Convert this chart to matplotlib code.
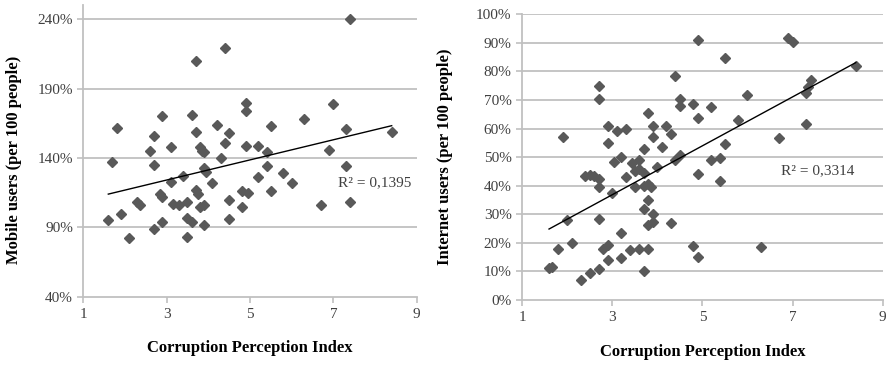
import numpy as np
import matplotlib
matplotlib.use("Agg")
from matplotlib import pyplot as plt

# left chart: corruption index vs mobile users
cpi_mobile = [7.4, 4.4, 3.7, 4.9, 4.9, 7.0, 3.6, 2.9, 6.3, 4.2, 5.5, 1.8, 7.3, 3.7,
              4.5, 8.4, 2.7, 4.4, 4.9, 5.2, 3.1, 3.8, 3.85, 3.9, 6.9, 2.6, 5.4, 4.3,
              1.7, 2.7, 5.4, 7.3, 3.9, 3.95, 5.8, 3.4, 5.2, 3.1, 4.1, 6.0, 3.7, 3.75,
              5.5, 4.8, 4.95, 2.85, 2.9, 4.5, 2.3, 2.35, 3.15, 3.3, 3.5, 3.8, 3.9, 4.8,
              7.4, 6.7, 1.6, 1.9, 2.1, 2.7, 2.9, 3.5, 3.6, 3.5, 3.9, 4.5]
mobile = [240, 219, 210, 180, 174, 179, 171, 170, 168, 164, 163, 162, 161, 159,
          158, 159, 156, 151, 149, 149, 148, 148, 145, 144, 146, 145, 144, 140,
          137, 135, 134, 134, 133, 130, 129, 127, 126, 123, 122, 122, 117, 114,
          116, 116, 115, 114, 112, 110, 108, 106, 107, 106, 108, 105, 106, 105,
          108, 106, 95, 100, 82, 89, 94, 97, 94, 83, 92, 96]

# right chart: corruption index vs internet users
cpi_internet = [1.6, 1.66, 1.8, 1.9, 2.0, 2.1, 2.3, 2.4, 2.5, 2.5, 2.6, 2.7, 2.7, 2.7,
                2.7, 2.7, 2.7, 2.8, 2.9, 2.9, 2.9, 2.9, 3.0, 3.1, 3.05, 3.2, 3.2, 3.2,
                3.3, 3.3, 3.4, 3.45, 3.5, 3.5, 3.6, 3.6, 3.6, 3.7, 3.7, 3.7, 3.7, 3.7,
                3.8, 3.8, 3.85, 3.8, 3.8, 3.8, 3.9, 3.9, 3.9, 3.9, 4.0, 4.1, 4.2, 4.3,
                4.3, 4.4, 4.4, 4.5, 4.5, 4.5, 4.8, 4.8, 4.9, 4.9, 4.9, 4.9, 5.2, 5.2,
                5.4, 5.4, 5.5, 5.5, 5.8, 6.0, 6.3, 6.7, 6.9, 7.0, 7.3, 7.3, 7.35, 7.4, 8.4]
internet = [11.1, 11.7, 18, 57, 28, 20, 7, 43.5, 43.7, 9.3, 43.5, 42.5, 39.5, 28.2,
            11, 75, 70.5, 17.7, 19.3, 14, 61, 55, 37.5, 59, 48.3, 50, 23.6, 14.6,
            60, 43, 17.5, 48, 45, 39.7, 45.7, 49, 18, 52.8, 44.3, 39.9, 31.7, 10,
            65.3, 40.5, 39.7, 35, 26.3, 18, 61, 57, 30, 27.4, 46.5, 53.7, 61, 58,
            27, 78.5, 49, 50.7, 70.5, 68, 68.6, 19, 91, 63.7, 44.2, 15, 67.7, 49,
            49.6, 41.5, 84.6, 54.5, 63, 71.7, 18.7, 56.6, 91.6, 90.4, 61.7, 72.5, 74.5, 77, 82]

mobile_ticks = [40, 90, 140, 190, 240]
internet_ticks = [0, 10, 20, 30, 40, 50, 60, 70, 80, 90, 100]
x_ticks = [1, 3, 5, 7, 9]

plt.rcParams['font.family'] = ['Liberation Serif', 'DejaVu Serif']

fig = plt.figure(figsize=(8.9, 3.65), dpi=100)
ax1 = fig.add_axes([0.0936, 0.187, 0.3746, 0.798])
ax2 = fig.add_axes([0.5865, 0.178, 0.4054, 0.783])

grid_col = '#c0c0c0'
txt_col = '#404040'
pt_col = '#595959'


def setup(ax, xs, ys, yticks, ylim, ylabel, ylab_pos, r2, r2_pos):
    ax.plot(xs, ys, 'D', color=pt_col, ms=5.5, mec=pt_col, zorder=3)
    # linear trendline like excel, from min to max x
    k, b = np.polyfit(xs, ys, 1)
    xl = np.array([min(xs), max(xs)])
    ax.plot(xl, k * xl + b, color='black', lw=1, zorder=4)
    ax.set_xlim(1, 9)
    ax.set_ylim(*ylim)
    ax.set_xticks(x_ticks)
    ax.set_yticks(yticks)
    ax.set_yticklabels(['%d%%' % t for t in yticks])
    for t in yticks[1:]:
        ax.axhline(t, color=grid_col, lw=1.3, zorder=1)
    for s in ['top', 'right']:
        ax.spines[s].set_visible(False)
    for s in ['left', 'bottom']:
        ax.spines[s].set_color(grid_col)
        ax.spines[s].set_linewidth(1.3)
    ax.tick_params(axis='both', colors=grid_col, labelcolor=txt_col, labelsize=11,
                   length=4, width=1.2)
    ax.tick_params(axis='x', pad=4)
    ax.set_xlabel('Corruption Perception Index', fontsize=12, fontweight='bold',
                  labelpad=14)
    ax.set_ylabel(ylabel, fontsize=12, fontweight='bold')
    ax.yaxis.set_label_coords(*ylab_pos)
    ax.text(r2_pos[0], r2_pos[1], r2, fontsize=11, color=txt_col, va='center')


setup(ax1, cpi_mobile, mobile, mobile_ticks, (40, 250),
      'Mobile users (per 100 people)', (-0.185, 0.47), 'R² = 0,1395', (7.12, 122))
setup(ax2, cpi_internet, internet, internet_ticks, (0, 100),
      'Internet users (per 100 people)', (-0.19, 0.5), 'R² = 0,3314', (6.74, 45.3))

plt.savefig('out.png', dpi=100)
